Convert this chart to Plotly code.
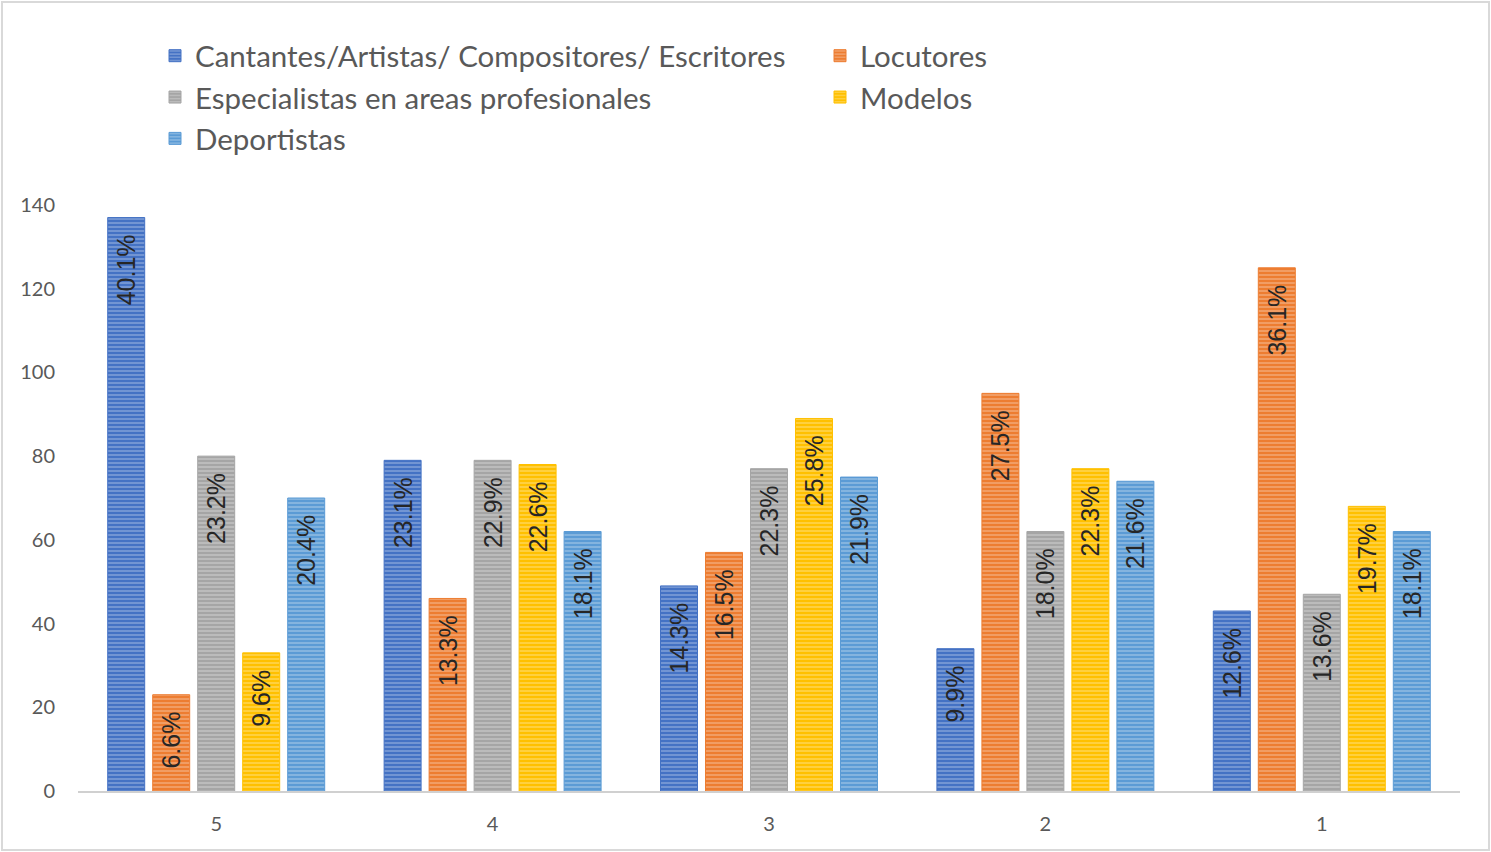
import plotly.graph_objects as go

categories = ["5", "4", "3", "2", "1"]
series_names = [
    "Cantantes/Artistas/ Compositores/ Escritores",
    "Locutores",
    "Especialistas en areas profesionales",
    "Modelos",
    "Deportistas",
]
cantantes = [137, 79, 49, 34, 43]
locutores = [23, 46, 57, 95, 125]
especialistas = [80, 79, 77, 62, 47]
modelos = [33, 78, 89, 77, 68]
deportistas = [70, 62, 75, 74, 62]

label_cantantes = ["40.1%", "23.1%", "14.3%", "9.9%", "12.6%"]
label_locutores = ["6.6%", "13.3%", "16.5%", "27.5%", "36.1%"]
label_especialistas = ["23.2%", "22.9%", "22.3%", "18.0%", "13.6%"]
label_modelos = ["9.6%", "22.6%", "25.8%", "22.3%", "19.7%"]
label_deportistas = ["20.4%", "18.1%", "21.9%", "21.6%", "18.1%"]

colors = ["#4472C4", "#ED7D31", "#A5A5A5", "#FFC000", "#5B9BD5"]
values = [cantantes, locutores, especialistas, modelos, deportistas]
labels = [label_cantantes, label_locutores, label_especialistas, label_modelos, label_deportistas]
legend_ids = ["legend", "legend2", "legend", "legend2", "legend"]

fig = go.Figure()
for name, vals, labs, col, lg in zip(series_names, values, labels, colors, legend_ids):
    fig.add_trace(go.Bar(
        name=name,
        x=categories,
        y=vals,
        legend=lg,
        text=[l + "\u00a0\u00a0" for l in labs],
        textposition="inside",
        insidetextanchor="end",
        textangle=-90,
        constraintext="none",
        textfont=dict(family="Liberation Sans", size=25, color="#262626"),
        marker=dict(
            color=col,
            line=dict(color=col, width=1),
            pattern=dict(shape="-", fillmode="overlay", fgcolor="rgba(255,255,255,0.55)",
                         size=4, solidity=0.45),
        ),
        hoverinfo="skip",
    ))

legend_font = dict(family="Lato", size=29.5, color="#595959")
lx = (155 - 78) / 1382
fig.update_layout(
    width=1491,
    height=852,
    paper_bgcolor="white",
    plot_bgcolor="white",
    barmode="group",
    bargap=0.186,
    bargroupgap=0.178,
    margin=dict(l=78, r=31, t=205, b=61),
    font=dict(family="Lato", color="#595959"),
    legend=dict(
        orientation="v", x=lx, xanchor="left", y=1.2986, yanchor="top",
        font=legend_font, itemwidth=30, traceorder="normal", bgcolor="rgba(0,0,0,0)",
    ),
    legend2=dict(
        orientation="v", x=lx + 665 / 1382, xanchor="left", y=1.2986, yanchor="top",
        font=legend_font, itemwidth=30, traceorder="normal", bgcolor="rgba(0,0,0,0)",
    ),
    xaxis=dict(
        type="category",
        showline=True,
        linecolor="#D0D0D0",
        linewidth=2,
        showgrid=False,
        ticks="",
        ticklabelstandoff=14,
        tickfont=dict(family="Lato", size=20, color="#595959"),
    ),
    yaxis=dict(
        range=[0, 140],
        dtick=20,
        showgrid=False,
        zeroline=False,
        showline=False,
        ticks="",
        ticklabelstandoff=22,
        tickfont=dict(family="Lato", size=20, color="#595959"),
    ),
    shapes=[dict(
        type="rect", xref="paper", yref="paper",
        x0=-76 / 1382, x1=1 + 29 / 1382,
        y0=-59 / 586, y1=1 + 203 / 586,
        line=dict(color="#D9D9D9", width=2),
        fillcolor="rgba(0,0,0,0)",
        layer="below",
    )],
)

fig.write_html("out.html")
